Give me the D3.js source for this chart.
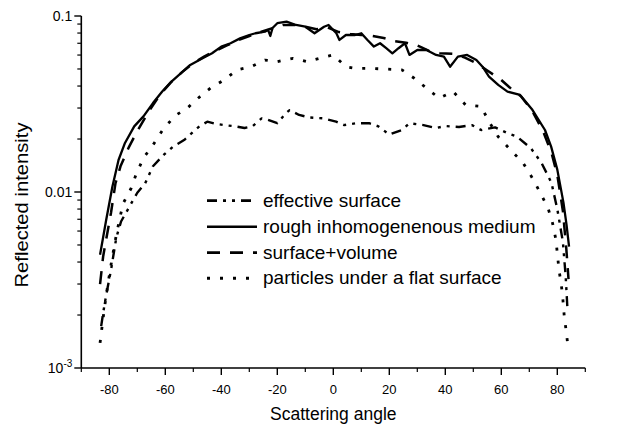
<!DOCTYPE html>
<html><head><meta charset="utf-8">
<script src="https://cdn.jsdelivr.net/npm/d3@7"></script>
<style>body{margin:0;background:#fff}svg{display:block}</style>
</head><body>
<svg id="c" width="625" height="426"></svg>
<script>
// ---------- data ----------
const xMajorTicks = [-80,-60,-40,-20,0,20,40,60,80];
const xMinorTicks = [-90,-70,-50,-30,-10,10,30,50,70,90];
const yMajorTicks = [0.1,0.01,0.001];
const yTickLabels = ["0.1","0.01","10^-3"];
const legendLabels = ["effective surface","rough inhomogenenous medium","surface+volume","particles under a flat surface"];

const roughAngle = [-83.3,-81.1,-78.9,-76.7,-74.4,-71.1,-67.8,-64.4,-61.1,-57.8,-54.4,-51.1,-46.7,-43.3,-40,-36.7,-33.3,-30,-27.8,-24.4,-23.3,-22.5,-21.7,-20,-16.7,-13.3,-10,-6.7,-3.3,-1.7,1.1,2.2,4.5,7.8,10,12.2,14.5,16.7,18.9,21.1,23.3,25.6,27.2,30,33.3,36.7,39.5,41.7,44.5,47.8,51.1,53.3,55.6,58.9,62.2,66.7,71.1,75.6,77.8,80,82.2,83.3,84.2];
const roughValue = [0.0044,0.00695,0.0107,0.0152,0.019,0.0236,0.0269,0.032,0.0372,0.0424,0.0473,0.0527,0.0575,0.0614,0.067,0.070,0.0746,0.078,0.0798,0.0815,0.0834,0.077,0.0855,0.091,0.0929,0.0889,0.0869,0.0798,0.0869,0.0889,0.0798,0.0731,0.078,0.078,0.0798,0.0731,0.067,0.070,0.0656,0.0614,0.0656,0.070,0.0601,0.0641,0.0641,0.0601,0.0588,0.0515,0.0588,0.0601,0.0562,0.0515,0.0453,0.0406,0.0372,0.0356,0.0293,0.0225,0.0181,0.0134,0.0087,0.0065,0.0049];

const svAngle = [-83.3,-82.2,-81.1,-79.4,-77.8,-76,-73,-70,-66,-62,-58,-54,-50,-46,-42,-38,-34,-30,-26,-22,-18,-14,-10,-6,-2,2,6,10,14,18,22,26,30,34,38,43,47,51,55,60,64,67,71,75,78,80,82,83.2,84];
const svValue = [0.0030,0.0043,0.0054,0.0076,0.0112,0.0140,0.0180,0.0222,0.0285,0.0355,0.042,0.048,0.054,0.059,0.0635,0.068,0.073,0.077,0.081,0.085,0.089,0.089,0.087,0.084,0.086,0.081,0.079,0.078,0.077,0.075,0.072,0.0705,0.068,0.0635,0.0615,0.0609,0.058,0.054,0.049,0.0433,0.038,0.035,0.029,0.022,0.0165,0.0125,0.0078,0.0048,0.0032];

const partAngle = [-83.3,-81.9,-80.5,-79,-77.5,-76,-75,-72.2,-70.5,-67.8,-64.4,-60.5,-56.1,-52.2,-48.3,-43.9,-38.9,-34.4,-29.4,-24.4,-20,-14.4,-9.4,-5,0,4.5,8,13,18,24.5,28.9,33.3,37.8,42.8,47.2,52.8,55.6,58.9,62.8,67.8,71.1,73.9,76.7,78.3,79.5,80.6,81.5,82,82.5,83.2,83.8];
const partValue = [0.00139,0.0021,0.0030,0.0042,0.0057,0.0074,0.00865,0.0105,0.0125,0.0156,0.0185,0.0231,0.0274,0.0299,0.0341,0.0389,0.0434,0.0494,0.0515,0.0562,0.0550,0.0575,0.0550,0.0575,0.0601,0.0515,0.0504,0.0504,0.050,0.0494,0.0443,0.0389,0.0341,0.0372,0.0313,0.0306,0.0251,0.0206,0.0177,0.0146,0.0120,0.0099,0.0081,0.00666,0.00536,0.00362,0.00291,0.00245,0.00196,0.00161,0.00133];

const effAngle = [-82.9,-82.1,-81.1,-79.4,-77.5,-75.8,-73.3,-70,-67.2,-64.4,-60.5,-57.2,-53,-50,-47.8,-45,-42,-38.9,-35,-31.7,-28.9,-25.6,-23.3,-20,-16.7,-15.6,-12.2,-8.5,-3.5,1,3.9,8.3,12.8,16.1,20,24.5,27.2,32.2,36.7,40,44.9,49.5,52.8,57.8,62.2,65.5,70.6,74.4,77.9,80,82,83,83.6];
const effValue = [0.00173,0.0021,0.0026,0.0036,0.0055,0.0068,0.0080,0.0099,0.0112,0.0140,0.0163,0.0181,0.0199,0.0220,0.0236,0.0251,0.0244,0.0240,0.0236,0.0231,0.0236,0.0262,0.0257,0.0246,0.0283,0.0292,0.0274,0.0265,0.0262,0.0251,0.0240,0.0246,0.0246,0.0236,0.0212,0.0225,0.0246,0.0240,0.0231,0.0237,0.0234,0.0240,0.0225,0.0233,0.0216,0.0207,0.0177,0.0146,0.0113,0.0080,0.0052,0.0033,0.0022];

// ---------- chart ----------
const svg = d3.select("#c");
const x = d3.scaleLinear().domain([-90,90]).range([81.3,585.3]);
const y = d3.scaleLog().domain([0.001,0.1]).range([368,16]);
const FONT = "'Liberation Sans', Arial, Helvetica, sans-serif";

const series = [
  {a: effAngle,  v: effValue,  dash: "10,6,3,6,3,6", w: 2.4},
  {a: roughAngle, v: roughValue, dash: null, w: 2.3},
  {a: svAngle,   v: svValue,   dash: "13,10", w: 2.5},
  {a: partAngle, v: partValue, dash: "3,10", w: 2.8}
];

const line = d3.line().x(d => x(d[0])).y(d => y(d[1])).curve(d3.curveLinear);
const gLines = svg.append("g");
series.forEach(s => {
  const pts = s.a.map((a,i) => [a, s.v[i]]);
  gLines.append("path").datum(pts).attr("d", line)
    .attr("fill","none").attr("stroke","#000").attr("stroke-width", s.w)
    .attr("stroke-dasharray", s.dash).attr("stroke-linejoin","round");
});

// x axis
const gx = svg.append("g").attr("transform","translate(0,368)");
gx.append("line").attr("x1",x(-90)).attr("x2",x(90)).attr("stroke","#000").attr("stroke-width",1.6);
gx.selectAll("line.maj").data(xMajorTicks).join("line").attr("class","maj")
  .attr("x1",d=>x(d)).attr("x2",d=>x(d)).attr("y1",0).attr("y2",7).attr("stroke","#000").attr("stroke-width",1.4);
gx.selectAll("line.min").data(xMinorTicks).join("line").attr("class","min")
  .attr("x1",d=>x(d)).attr("x2",d=>x(d)).attr("y1",0).attr("y2",4).attr("stroke","#000").attr("stroke-width",1.2);
gx.selectAll("text").data(xMajorTicks).join("text")
  .attr("x",d=>x(d)).attr("y",26).attr("text-anchor","middle")
  .attr("font-family",FONT).attr("font-size",13).text(d=>d);

// y axis
const gy = svg.append("g").attr("transform","translate(" + x(-90) + ",0)");
gy.append("line").attr("y1",y(0.001)).attr("y2",y(0.1)).attr("stroke","#000").attr("stroke-width",1.6);
const yMinor = [];
[0.001,0.01].forEach(base => { for (let k=2;k<=9;k++) yMinor.push(base*k); });
gy.selectAll("line.maj").data(yMajorTicks).join("line").attr("class","maj")
  .attr("x1",-7).attr("x2",0).attr("y1",d=>y(d)).attr("y2",d=>y(d)).attr("stroke","#000").attr("stroke-width",1.4);
gy.selectAll("line.min").data(yMinor).join("line").attr("class","min")
  .attr("x1",-4).attr("x2",0).attr("y1",d=>y(d)).attr("y2",d=>y(d)).attr("stroke","#000").attr("stroke-width",1.2);
yMajorTicks.forEach((d,i) => {
  const lab = yTickLabels[i];
  const t = gy.append("text").attr("x",-9).attr("y",y(d)+5).attr("text-anchor","end")
    .attr("font-family",FONT).attr("font-size",14);
  if (lab.includes("^")) {
    const [b,e] = lab.split("^");
    t.append("tspan").text(b);
    t.append("tspan").attr("dy",-6).attr("font-size",10).text(e);
  } else t.text(lab);
});

// axis titles
svg.append("text").attr("x",x(0)).attr("y",420).attr("text-anchor","middle")
  .attr("font-family",FONT).attr("font-size",17.5).text("Scattering angle");
svg.append("text").attr("transform","translate(28,205) rotate(-90)").attr("text-anchor","middle")
  .attr("font-family",FONT).attr("font-size",18).attr("textLength",165).attr("lengthAdjust","spacingAndGlyphs")
  .text("Reflected intensity");

// legend
const legendY = [200.7,226.7,252.7,278.3];
const gl = svg.append("g");
series.forEach((s,i) => {
  gl.append("line").attr("x1",207).attr("x2",257).attr("y1",legendY[i]).attr("y2",legendY[i])
    .attr("stroke","#000").attr("stroke-width",s.w+0.3).attr("stroke-dasharray",s.dash);
  gl.append("text").attr("x",263).attr("y",legendY[i]+6).attr("font-family",FONT).attr("font-size",19)
    .text(legendLabels[i]);
});
</script>
</body></html>
